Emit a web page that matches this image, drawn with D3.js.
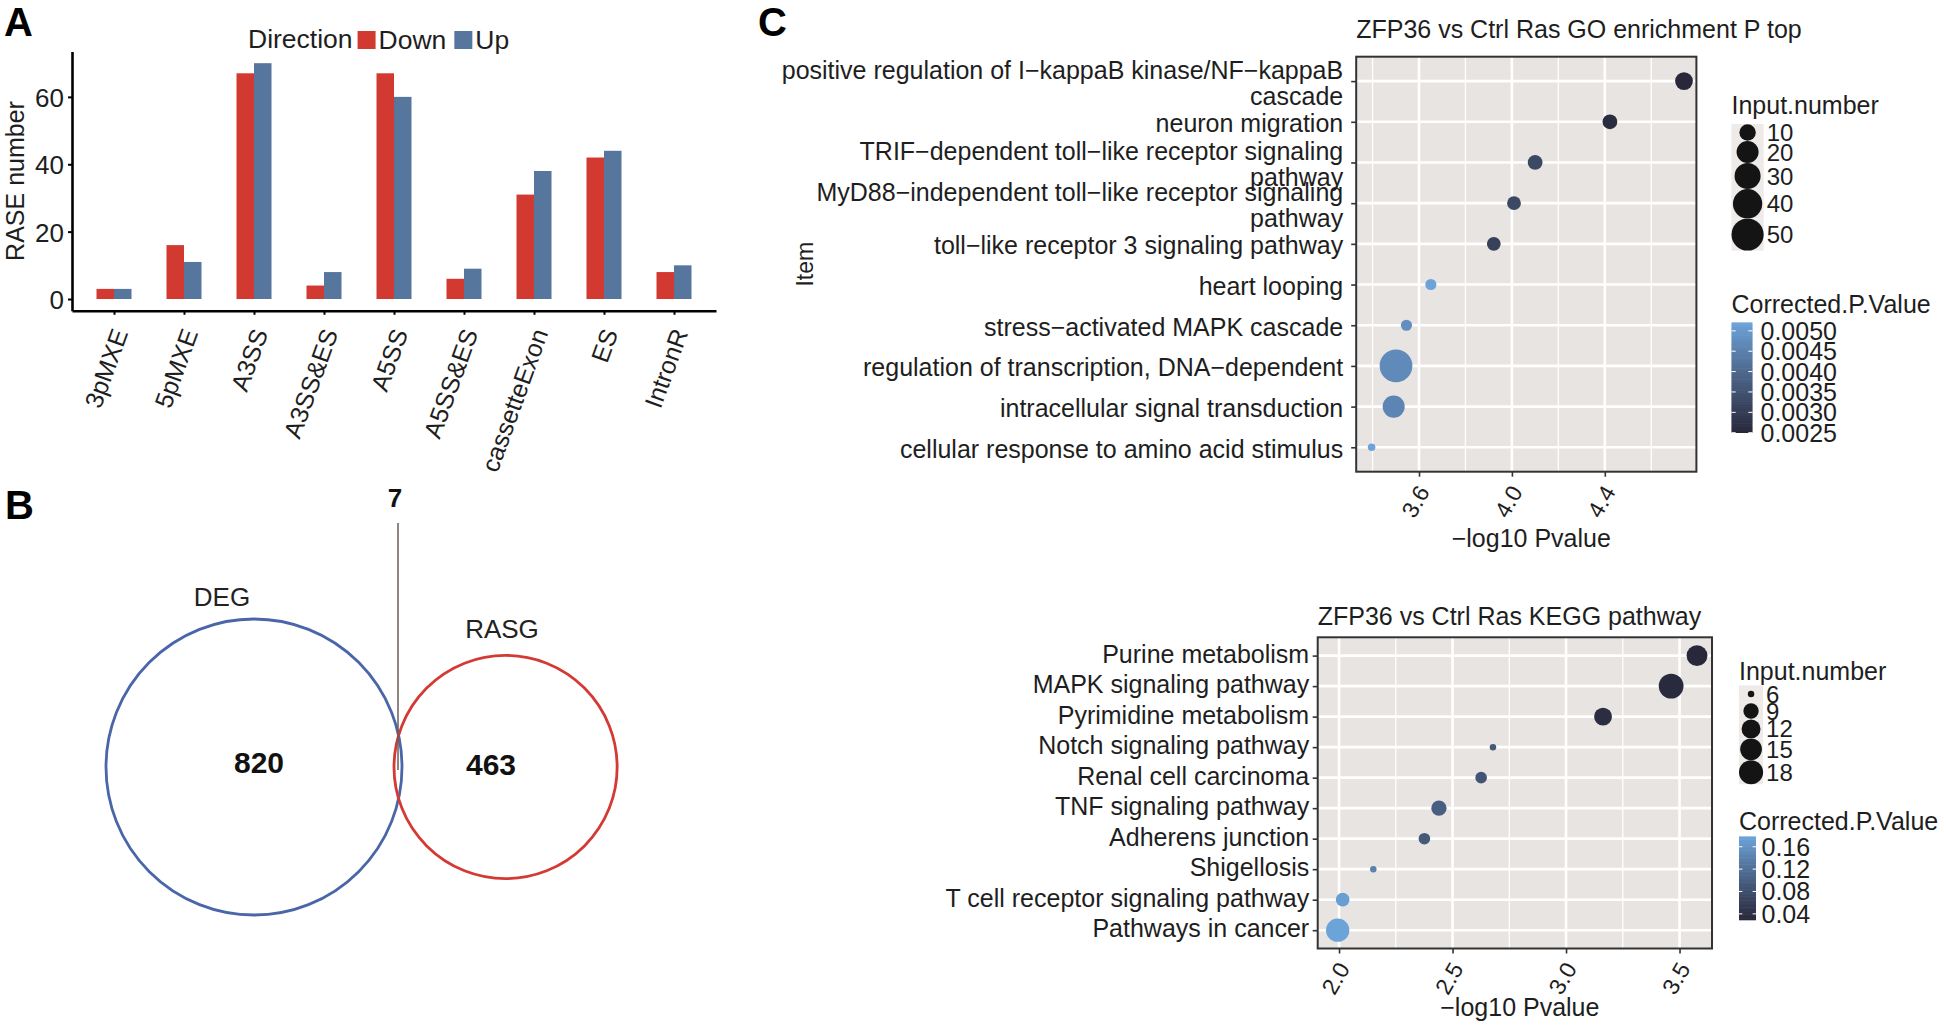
<!DOCTYPE html>
<html><head><meta charset="utf-8">
<script src="https://cdn.jsdelivr.net/npm/d3@7"></script>
<style>
body{margin:0;background:#fff;}
text{font-family:"Liberation Sans",Arial,Helvetica,sans-serif;fill:#1e1e1e;}
</style>
</head><body>
<svg id="fig" width="1946" height="1026"></svg>
<script>
// ---------------- DATA ----------------
// Panel A
const spliceTypes = ["3pMXE","5pMXE","A3SS","A3SS&ES","A5SS","A5SS&ES","cassetteExon","ES","IntronR"];
const directions = ["Down","Up"];
const downCounts = [3,16,67,4,67,6,31,42,8];
const upCounts   = [3,11,70,8,60,9,38,44,10];
const rasTicks = [0,20,40,60];

// Panel B
const vennSets = ["DEG","RASG"];
const vennOnly = [820,463];
const vennShared = 7;

// Panel C - GO
const goTitle = "ZFP36 vs Ctrl Ras GO enrichment P top";
const goTerms = [
  "positive regulation of I\u2212kappaB kinase/NF\u2212kappaB cascade",
  "neuron migration",
  "TRIF\u2212dependent toll\u2212like receptor signaling pathway",
  "MyD88\u2212independent toll\u2212like receptor signaling pathway",
  "toll\u2212like receptor 3 signaling pathway",
  "heart looping",
  "stress\u2212activated MAPK cascade",
  "regulation of transcription, DNA\u2212dependent",
  "intracellular signal transduction",
  "cellular response to amino acid stimulus"];
const goLogP  = [4.741,4.422,4.100,4.009,3.922,3.651,3.546,3.501,3.491,3.396];
const goCount = [12,8,8,7,7,5,5,52,20,4];
const goPadj  = [0.0025,0.0026,0.0033,0.0033,0.0031,0.0052,0.0048,0.0047,0.0046,0.0052];
const goXTicks = [3.6,4.0,4.4];
const goSizeBreaks = [10,20,30,40,50];
const goColorBreaks = [0.0050,0.0045,0.0040,0.0035,0.0030,0.0025];

// Panel C - KEGG
const keggTitle = "ZFP36 vs Ctrl Ras KEGG pathway";
const keggTerms = ["Purine metabolism","MAPK signaling pathway","Pyrimidine metabolism",
  "Notch signaling pathway","Renal cell carcinoma","TNF signaling pathway",
  "Adherens junction","Shigellosis","T cell receptor signaling pathway","Pathways in cancer"];
const keggLogP  = [3.577,3.463,3.163,2.678,2.626,2.440,2.376,2.151,2.016,1.994];
const keggCount = [14,19,11,6,7,9,7,6,8,17];
const keggPadj  = [0.029,0.032,0.036,0.092,0.088,0.100,0.092,0.140,0.172,0.178];
const keggXTicks = [2.0,2.5,3.0,3.5];
const keggSizeBreaks = [6,9,12,15,18];
const keggColorBreaks = [0.16,0.12,0.08,0.04];

// ---------------- DRAW ----------------
const svg = d3.select("#fig");
svg.append("rect").attr("width",1946).attr("height",1026).attr("fill","#fff");

// panel letters
const letters = ["A","B","C"];
const letterXY = [[4,36],[5,519],[758,36]];
svg.selectAll("text.letter").data(letters).join("text").attr("class","letter")
  .attr("x",(d,i)=>letterXY[i][0]).attr("y",(d,i)=>letterXY[i][1])
  .attr("font-size",40).attr("font-weight","bold").style("fill","#000").text(d=>d);

// ===== Panel A =====
const gA = svg.append("g");
const xA = d3.scalePoint().domain(spliceTypes).range([72,716]).padding(0.6);
const yA = d3.scaleLinear().domain([-3.5,73.5]).range([310.8,51.4]);
const dodge = d3.scaleBand().domain(directions).range([-xA.step()*0.25, xA.step()*0.25]);
const dirColor = d3.scaleOrdinal().domain(directions).range(["#d23a31","#57769e"]);
const barRows = spliceTypes.flatMap((t,i)=>[{t,dir:"Down",v:downCounts[i]},{t,dir:"Up",v:upCounts[i]}]);
gA.selectAll("rect.bar").data(barRows).join("rect").attr("class","bar")
  .attr("x",d=>xA(d.t)+dodge(d.dir)).attr("width",dodge.bandwidth())
  .attr("y",d=>yA(d.v)).attr("height",d=>yA(0)-yA(d.v))
  .attr("fill",d=>dirColor(d.dir));

const axYA = gA.append("g").attr("transform","translate(72,0)")
  .call(d3.axisLeft(yA).tickValues(rasTicks).tickSize(4).tickSizeOuter(0));
axYA.select(".domain").attr("stroke","#000").attr("stroke-width",2.6);
axYA.selectAll(".tick line").attr("stroke","#000").attr("stroke-width",2);
axYA.selectAll(".tick text").attr("font-size",26).attr("x",-8).attr("dy","0.36em");

const axXA = gA.append("g").attr("transform","translate(0,310.8)")
  .call(d3.axisBottom(xA).tickSize(4).tickSizeOuter(0));
axXA.select(".domain").attr("stroke","#000").attr("stroke-width",2.6);
axXA.selectAll(".tick line").attr("stroke","#000").attr("stroke-width",2);
axXA.selectAll(".tick text").attr("font-size",25).attr("y",0).attr("dy",0)
  .attr("text-anchor","end").attr("transform","translate(14,22) rotate(-70)");

gA.append("text").attr("transform","translate(24,181) rotate(-90)")
  .attr("text-anchor","middle").attr("font-size",25).text("RASE number");

// legend A
const legA = gA.append("g");
const legTitle = legA.append("text").attr("x",248).attr("y",48).attr("font-size",26.5).text("Direction");
let cur = 248 + legTitle.node().getComputedTextLength() + 5;
directions.forEach(dir=>{
  legA.append("rect").attr("x",cur).attr("y",31).attr("width",18).attr("height",18).attr("fill",dirColor(dir));
  const t = legA.append("text").attr("x",cur+21).attr("y",49).attr("font-size",26.5).text(dir);
  cur = cur + 21 + t.node().getComputedTextLength() + 8;
});

// ===== Panel B (Venn) =====
const gB = svg.append("g");
const setTotals = vennOnly.map(v=>v+vennShared);
const rVenn = d3.scaleSqrt().domain([0,d3.max(setTotals)]).range([0,148]);
const vennColors = ["#4a66a8","#d43a34"];
const cyV = 767;
const r0 = rVenn(setTotals[0]), r1 = rVenn(setTotals[1]);
const cx0 = 254, cx1 = cx0 + r0 + r1 - 8;
const vennCircles = [{name:vennSets[0],cx:cx0,r:r0,n:vennOnly[0]},{name:vennSets[1],cx:cx1,r:r1,n:vennOnly[1]}];
gB.selectAll("circle.venn").data(vennCircles).join("circle").attr("class","venn")
  .attr("cx",d=>d.cx).attr("cy",cyV).attr("r",d=>d.r)
  .attr("fill","none").attr("stroke",(d,i)=>vennColors[i]).attr("stroke-width",2.8);
const nameXY = [[222,606],[502,638]];
gB.selectAll("text.vname").data(vennCircles).join("text").attr("class","vname")
  .attr("x",(d,i)=>nameXY[i][0]).attr("y",(d,i)=>nameXY[i][1])
  .attr("text-anchor","middle").attr("font-size",26).style("fill","#222").text(d=>d.name);
const countXY = [[259,773],[491,775]];
gB.selectAll("text.vcount").data(vennCircles).join("text").attr("class","vcount")
  .attr("x",(d,i)=>countXY[i][0]).attr("y",(d,i)=>countXY[i][1])
  .attr("text-anchor","middle").attr("font-size",30).attr("font-weight","bold").style("fill","#111").text(d=>d.n);
const midX = ((cx0+r0)+(cx1-r1))/2;
gB.append("line").attr("x1",midX).attr("x2",midX).attr("y1",523).attr("y2",cyV+3)
  .attr("stroke","#6b5d57").attr("stroke-width",1.5);
gB.append("text").attr("x",midX-3).attr("y",507).attr("text-anchor","middle")
  .attr("font-size",26).attr("font-weight","bold").style("fill","#111").text(vennShared);

// ===== Panel C (dot plots) =====
function wrap(s,w){
  const words=s.split(" "); const lines=[]; let c="";
  words.forEach(wd=>{ if(c && (c+" "+wd).length>w){lines.push(c); c=wd;} else c = c ? c+" "+wd : wd; });
  if(c) lines.push(c); return lines;
}
function drawDot(c){
  const g = svg.append("g");
  const x = d3.scaleLinear().domain(c.xDomain).range([c.x0,c.x1]);
  const y = d3.scalePoint().domain(c.terms).range([c.y0,c.y1]).padding(0.6);
  g.append("rect").attr("x",c.x0).attr("y",c.y0).attr("width",c.x1-c.x0).attr("height",c.y1-c.y0).attr("fill","#e8e4e1");
  const step = c.xTicks[1]-c.xTicks[0];
  const minor = [];
  for(let v=c.xTicks[0]-step/2; v<c.xDomain[1]; v+=step){ if(v>c.xDomain[0]) minor.push(v); }
  g.selectAll("line.minor").data(minor).join("line").attr("class","minor")
    .attr("x1",d=>x(d)).attr("x2",d=>x(d)).attr("y1",c.y0).attr("y2",c.y1)
    .attr("stroke","#fff").attr("stroke-width",1.3);
  g.selectAll("line.majx").data(c.xTicks).join("line").attr("class","majx")
    .attr("x1",d=>x(d)).attr("x2",d=>x(d)).attr("y1",c.y0).attr("y2",c.y1)
    .attr("stroke","#fff").attr("stroke-width",2.6);
  g.selectAll("line.majy").data(c.terms).join("line").attr("class","majy")
    .attr("x1",c.x0).attr("x2",c.x1).attr("y1",d=>y(d)).attr("y2",d=>y(d))
    .attr("stroke","#fff").attr("stroke-width",2.6);

  const rows = c.terms.map((t,i)=>({t,lp:c.logP[i],n:c.count[i],p:c.padj[i]}));
  const cExt = d3.extent(c.padj);
  const col = d3.scaleLinear().domain(cExt).range(["#28283a","#6ca3d9"]).interpolate(d3.interpolateLab);
  const tN = d3.scaleLinear().domain(d3.extent(c.count)).range([0,1]).clamp(true);
  const rS = d3.scaleLinear().domain([0,1]).range([c.dRange[0]/2,c.dRange[1]/2]);
  const rad = v => rS(Math.sqrt(tN(v)));
  g.selectAll("circle.pt").data(rows).join("circle").attr("class","pt")
    .attr("cx",d=>x(d.lp)).attr("cy",d=>y(d.t)).attr("r",d=>rad(d.n)).attr("fill",d=>col(d.p));
  g.append("rect").attr("x",c.x0).attr("y",c.y0).attr("width",c.x1-c.x0).attr("height",c.y1-c.y0)
    .attr("fill","none").attr("stroke","#333").attr("stroke-width",2);

  const ay = g.append("g").attr("transform",`translate(${c.x0},0)`)
    .call(d3.axisLeft(y).tickSize(5).tickSizeOuter(0));
  ay.select(".domain").remove();
  ay.selectAll(".tick line").attr("stroke","#333").attr("stroke-width",1.6);
  ay.selectAll(".tick text").each(function(d){
    const lines = wrap(d,50);
    const t = d3.select(this).text(null).attr("font-size",25).attr("dy",null).attr("text-anchor","end");
    lines.forEach((ln,i)=>{
      t.append("tspan").attr("x",-c.labelPad).attr("y",c.labelDy+(i-(lines.length-1)/2)*c.lineH).text(ln);
    });
  });
  const ax = g.append("g").attr("transform",`translate(0,${c.y1})`)
    .call(d3.axisBottom(x).tickValues(c.xTicks).tickFormat(d3.format(".1f")).tickSize(5).tickSizeOuter(0));
  ax.select(".domain").remove();
  ax.selectAll(".tick line").attr("stroke","#333").attr("stroke-width",1.6);
  ax.selectAll(".tick text").attr("font-size",23).attr("y",0).attr("dy",0)
    .attr("text-anchor","end").attr("transform","translate(11,20) rotate(-60)");
  g.append("text").attr("x",(c.x0+c.x1)/2+5).attr("y",c.xTitleY).attr("text-anchor","middle")
    .attr("font-size",25).text("\u2212log10 Pvalue");
  g.append("text").attr("x",c.x0).attr("y",c.titleY).attr("font-size",25).text(c.title);
  if(c.yTitle){
    g.append("text").attr("transform",`translate(${c.yTitleX},${(c.y0+c.y1)/2}) rotate(-90)`)
      .attr("text-anchor","middle").attr("font-size",23).text(c.yTitle);
  }

  const lg = g.append("g");
  lg.append("text").attr("x",c.legX).attr("y",c.sizeTitleY).attr("font-size",25).text("Input.number");
  const dB = c.sizeBreaks.map(v=>2*rad(v));
  const W = d3.max(dB);
  let yy = c.sizeKeyTop;
  c.sizeBreaks.forEach((v,i)=>{
    const h = Math.max(dB[i],17);
    lg.append("rect").attr("x",c.legX).attr("y",yy).attr("width",W).attr("height",h).attr("fill","#eeeae7");
    lg.append("circle").attr("cx",c.legX+W/2).attr("cy",yy+h/2).attr("r",rad(v)).attr("fill","#141414");
    lg.append("text").attr("x",c.legX+W+3).attr("y",yy+h/2+8.5).attr("font-size",24).text(v);
    yy += h;
  });
  lg.append("text").attr("x",c.legX).attr("y",c.colTitleY).attr("font-size",25).text("Corrected.P.Value");
  const cb = d3.scaleLinear().domain(cExt).range([c.cbBottom,c.cbTop]);
  const nb = 60;
  const bins = d3.range(nb).map(i=>cExt[0]+(cExt[1]-cExt[0])*i/nb);
  const bh = (c.cbBottom-c.cbTop)/nb;
  lg.selectAll("rect.cb").data(bins).join("rect").attr("class","cb")
    .attr("x",c.legX).attr("y",d=>cb(d)-bh-0.3).attr("width",c.cbW).attr("height",bh+0.6)
    .attr("fill",d=>col(d+(cExt[1]-cExt[0])/nb/2));
  c.colorBreaks.forEach(v=>{
    const yv = cb(v);
    lg.append("line").attr("x1",c.legX).attr("x2",c.legX+c.cbW*0.2).attr("y1",yv).attr("y2",yv).attr("stroke","#fff").attr("stroke-width",1);
    lg.append("line").attr("x1",c.legX+c.cbW*0.8).attr("x2",c.legX+c.cbW).attr("y1",yv).attr("y2",yv).attr("stroke","#fff").attr("stroke-width",1);
    lg.append("text").attr("x",c.legX+c.cbW+c.cbLabelDx).attr("y",yv+9).attr("font-size",25).text(c.colorFmt(v));
  });
}

drawDot({
  terms:goTerms, logP:goLogP, count:goCount, padj:goPadj, title:goTitle,
  x0:1356.2, x1:1696.4, y0:56.7, y1:471.7, xDomain:[3.3296,4.7944], xTicks:goXTicks,
  dRange:[7.5,32.7], labelPad:13, labelDy:10, lineH:26,
  xTitleY:547, titleY:38, yTitle:"Item", yTitleX:813,
  legX:1731.5, sizeTitleY:114, sizeKeyTop:124, sizeBreaks:goSizeBreaks,
  colTitleY:313, cbTop:322.7, cbBottom:432.7, cbW:21, cbLabelDx:8,
  colorBreaks:goColorBreaks, colorFmt:d3.format(".4f")
});
drawDot({
  terms:keggTerms, logP:keggLogP, count:keggCount, padj:keggPadj, title:keggTitle,
  x0:1317.7, x1:1712, y0:637.3, y1:948.5, xDomain:[1.906,3.643], xTicks:keggXTicks,
  dRange:[6.5,24.8], labelPad:8.5, labelDy:6.5, lineH:26,
  xTitleY:1016, titleY:624.7, yTitle:null,
  legX:1739, sizeTitleY:679.5, sizeKeyTop:685.5, sizeBreaks:keggSizeBreaks,
  colTitleY:830, cbTop:836.7, cbBottom:920, cbW:17, cbLabelDx:5.5,
  colorBreaks:keggColorBreaks, colorFmt:d3.format(".2f")
});
</script>
</body></html>
